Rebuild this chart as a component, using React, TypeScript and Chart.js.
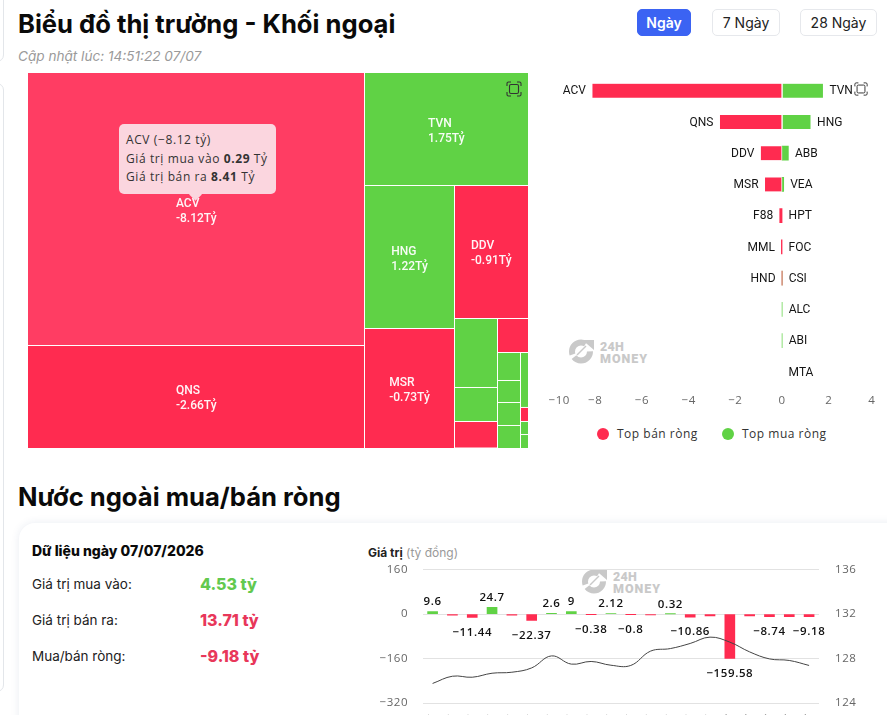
import React, { useEffect, useRef } from "react";
import { Chart, registerables } from "chart.js";

Chart.register(...registerables);

// ---------- Treemap data ----------
const treemapNames = ["ACV", "QNS", "TVN", "HNG", "MSR", "DDV", "ABB", "VEA", "F88", "MML", "HPT", "FOC", "CSI", "ALC", "ABI", "HND", "MTA", "VTP"];
const treemapValues = [-8.12, -2.66, 1.75, 1.22, -0.73, -0.91, 0.29, 0.1, -0.1, -0.05, 0.04, 0.03, 0.02, 0.02, 0.02, -0.02, 0.01, 0.01];
const treemapWeights = [91696, 34491, 18394, 12870, 10755, 9775, 2967, 1462, 1140, 1037, 644, 506, 529, 518, 412, 105, 98, 101];
const treemapLabelled = ["ACV", "QNS", "TVN", "HNG", "MSR", "DDV"];
// nesting of the treemap: [direction, ...children], a number is an index in the lists above
const treemapTree: any = ["h",
  ["v", 0, 1],
  ["v", 2,
    ["h",
      ["v", 3, 4],
      ["v", 5,
        ["h",
          ["v", 6, 7, 8],
          ["v", 9,
            ["h",
              ["v", 10, 11, 12, 13],
              ["v", 14, 15, 16, 17]]]]]]]];

// ---------- Top buy / sell ----------
const sellNames = ["ACV", "QNS", "DDV", "MSR", "F88", "MML", "HND", "", "", ""];
const sellValues = [-8.12, -2.66, -0.91, -0.73, -0.1, -0.03, -0.003, null, null, null];
const buyNames = ["TVN", "HNG", "ABB", "VEA", "HPT", "FOC", "CSI", "ALC", "ABI", "MTA"];
const buyValues = [1.75, 1.22, 0.27, 0.07, null, null, 0.003, 0.003, 0.003, null];
const sellLabel = "Top bán ròng";
const buyLabel = "Top mua ròng";

// ---------- Net flow ----------
const flowDates = ["10/06", "11/06", "12/06", "15/06", "16/06", "17/06", "18/06", "19/06", "22/06", "23/06", "24/06", "25/06", "26/06", "29/06", "30/06", "01/07", "02/07", "03/07", "06/07", "07/07"];
const flowValues = [9.6, -3.5, -11.44, 24.7, -3.5, -22.37, 2.6, 9, -0.38, 2.12, -0.8, -3, 0.32, -10.86, -6.5, -159.58, -6.5, -8.74, -9, -9.18];
const flowLabelShown = [true, false, true, true, false, true, true, true, true, true, true, false, true, true, false, true, false, true, false, true];
const indexValues = [125.76, 126.41, 126.32, 126.68, 126.77, 127.16, 128.24, 127.5, 127.74, 127.4, 127.38, 128.67, 128.9, 129.36, 129.93, 129.48, 128.6, 127.97, 127.83, 127.38];

const RED = "#FF2B50";
const RED_HOVER = "#FF3D63";
const GREEN = "#60D245";
const UI_FONT = "Inter, 'Noto Sans', sans-serif";
const TICK_FONT = "'Open Sans'";

function layoutTree(node: any, x0: number, y0: number, x1: number, y1: number, out: any[]) {
  if (typeof node === "number") {
    out[node] = { x0, y0, x1, y1 };
    return;
  }
  const weight = (n: any): number => (typeof n === "number" ? treemapWeights[n] : n.slice(1).reduce((s: number, c: any) => s + weight(c), 0));
  const total = weight(node);
  let pos = node[0] === "h" ? x0 : y0;
  node.slice(1).forEach((child: any) => {
    const share = weight(child) / total;
    if (node[0] === "h") {
      const next = pos + share * (x1 - x0);
      layoutTree(child, pos, y0, next, y1, out);
      pos = next;
    } else {
      const next = pos + share * (y1 - y0);
      layoutTree(child, x0, pos, x1, next, out);
      pos = next;
    }
  });
}

const treemapPlugin = {
  id: "treemapCells",
  afterDatasetsDraw(chart: any) {
    const { ctx, scales } = chart;
    const cells = chart.data.datasets[0].cells;
    ctx.save();
    cells.forEach((c: any, i: number) => {
      const left = scales.x.getPixelForValue(c.x0);
      const right = scales.x.getPixelForValue(c.x1);
      const top = scales.y.getPixelForValue(c.y0);
      const bottom = scales.y.getPixelForValue(c.y1);
      const value = treemapValues[i];
      ctx.fillStyle = i === 0 ? RED_HOVER : value < 0 ? RED : GREEN;
      const l = c.x0 <= 0 ? left : left + 0.5;
      const t = c.y0 <= 0 ? top : top + 0.5;
      const r = c.x1 >= 500 ? right : right - 0.5;
      const b = c.y1 >= 375 ? bottom : bottom - 0.5;
      ctx.fillRect(l, t, r - l, b - t);
    });
    ctx.font = "500 12px Roboto";
    ctx.fillStyle = "rgba(255,255,255,0.95)";
    ctx.textBaseline = "middle";
    ctx.textAlign = "left";
    cells.forEach((c: any, i: number) => {
      const name = treemapNames[i];
      if (!treemapLabelled.includes(name)) return;
      const cx = scales.x.getPixelForValue((c.x0 + c.x1) / 2);
      const cy = scales.y.getPixelForValue((c.y0 + c.y1) / 2);
      const valueText = `${treemapValues[i].toFixed(2)}Tỷ`;
      const w = Math.max(ctx.measureText(name).width, ctx.measureText(valueText).width);
      ctx.fillText(name, cx - w / 2, cy - 5.5);
      ctx.fillText(valueText, cx - w / 2, cy + 9.5);
    });
    ctx.restore();
  },
};

const spacingPlugin = {
  id: "tickSpacing",
  beforeDraw(chart: any) {
    chart.ctx.letterSpacing = "0.6px";
  },
};

const nameLabelPlugin = {
  id: "nameLabels",
  afterDatasetsDraw(chart: any) {
    const { ctx, scales } = chart;
    ctx.save();
    ctx.letterSpacing = "0px";
    ctx.font = "12px Roboto";
    ctx.fillStyle = "#151515";
    ctx.textBaseline = "middle";
    sellNames.forEach((name, i) => {
      if (!name) return;
      ctx.textAlign = "right";
      ctx.fillText(name, scales.x.getPixelForValue(sellValues[i] ?? 0) - 6.5, scales.y.getPixelForValue(i) + 0.8);
    });
    buyNames.forEach((name, i) => {
      ctx.textAlign = "left";
      ctx.fillText(name, scales.x.getPixelForValue(buyValues[i] ?? 0) + 6.5, scales.y.getPixelForValue(i) + 0.8);
    });
    ctx.restore();
  },
};

const flowLabelPlugin = {
  id: "flowLabels",
  afterDatasetsDraw(chart: any) {
    const { ctx } = chart;
    ctx.save();
    ctx.font = `600 11.5px ${TICK_FONT}`;
    ctx.fillStyle = "#111";
    ctx.textAlign = "center";
    ctx.textBaseline = "middle";
    chart.getDatasetMeta(1).data.forEach((el: any, i: number) => {
      if (!flowLabelShown[i]) return;
      const v = flowValues[i];
      ctx.fillText(String(v).replace("-", "\u2212"), el.x, v >= 0 ? el.y - 9.5 : el.y + 15);
    });
    ctx.restore();
  },
};

function Treemap() {
  const ref = useRef<HTMLCanvasElement>(null);
  useEffect(() => {
    const cells: any[] = [];
    layoutTree(treemapTree, 0, 0, 500, 375, cells);
    const chart = new Chart(ref.current!, {
      type: "scatter",
      data: {
        datasets: [{
          label: "Khối ngoại",
          data: cells.map((c) => ({ x: (c.x0 + c.x1) / 2, y: (c.y0 + c.y1) / 2 })),
          pointRadius: 0,
          cells,
        } as any],
      },
      options: {
        animation: false,
        responsive: false,
        events: [],
        layout: { padding: 0 },
        plugins: { legend: { display: false }, tooltip: { enabled: false } },
        scales: {
          x: { type: "linear", min: 0, max: 500, display: false },
          y: { type: "linear", min: 0, max: 375, reverse: true, display: false },
        },
      },
      plugins: [treemapPlugin],
    });
    return () => chart.destroy();
  }, []);
  return <canvas ref={ref} width={500} height={375} style={{ position: "absolute", left: 28, top: 73, width: 500, height: 375 }} />;
}

function TopBars() {
  const ref = useRef<HTMLCanvasElement>(null);
  useEffect(() => {
    const chart = new Chart(ref.current!, {
      type: "bar",
      data: {
        labels: buyNames,
        datasets: [
          {
            label: sellLabel,
            data: sellValues,
            backgroundColor: RED,
            barThickness: 14,
            borderSkipped: false,
            borderColor: "#fff",
            borderWidth: (c: any) => (Math.abs(c.raw) > 0.5 ? { right: 1, left: 0, top: 0, bottom: 0 } : 0),
          } as any,
          {
            label: buyLabel,
            data: buyValues,
            backgroundColor: GREEN,
            barThickness: 14,
            borderSkipped: false,
            borderColor: "#fff",
            borderWidth: (c: any) => (Math.abs(c.raw) > 0.5 ? { left: 1, right: 0, top: 0, bottom: 0 } : 0),
          } as any,
        ],
      },
      options: {
        indexAxis: "y",
        animation: false,
        responsive: false,
        events: [],
        layout: { padding: { left: 8.5, right: 11.5, top: 5, bottom: 0 } },
        plugins: { legend: { display: false }, tooltip: { enabled: false } },
        scales: {
          x: {
            type: "linear",
            stacked: true,
            min: -10,
            max: 4,
            grid: { display: false, drawTicks: false },
            border: { display: false },
            afterFit: (s: any) => { s.height = 32.5; },
            ticks: {
              stepSize: 2,
              align: "inner",
              padding: 6.8,
              color: "#666",
              font: { family: TICK_FONT, size: 11.5 },
              maxRotation: 0,
              callback: (v: any) => String(v).replace("-", "\u2212"),
            },
          },
          y: {
            stacked: true,
            display: false,
          },
        },
      },
      plugins: [spacingPlugin, nameLabelPlugin],
    });
    return () => chart.destroy();
  }, []);
  return <canvas ref={ref} width={347} height={350} style={{ position: "absolute", left: 540, top: 70, width: 347, height: 350, zIndex: 2 }} />;
}

function FlowChart() {
  const ref = useRef<HTMLCanvasElement>(null);
  useEffect(() => {
    const chart = new Chart(ref.current!, {
      type: "bar",
      data: {
        labels: flowDates,
        datasets: [
          {
            type: "line",
            label: "Chỉ số",
            data: indexValues,
            yAxisID: "y1",
            borderColor: "#444",
            borderWidth: 1,
            pointRadius: 0,
            tension: 0.4,
            order: 0,
          } as any,
          {
            type: "bar",
            label: "Giá trị",
            data: flowValues,
            yAxisID: "y",
            barThickness: 10,
            backgroundColor: flowValues.map((v) => (v >= 0 ? GREEN : RED)),
            order: 1,
          } as any,
        ],
      },
      options: {
        animation: false,
        responsive: false,
        events: [],
        layout: { padding: { top: 9.7, left: 0, right: 0, bottom: 0 } },
        plugins: { legend: { display: false }, tooltip: { enabled: false } },
        scales: {
          x: {
            grid: { display: false },
            border: { display: false },
            afterFit: (s: any) => { s.height = 57; },
            ticks: {
              color: "#888",
              font: { family: TICK_FONT, size: 10 },
              minRotation: 45,
              maxRotation: 45,
              autoSkip: false,
              padding: 1,
            },
          },
          y: {
            position: "left",
            min: -320,
            max: 160,
            afterFit: (s: any) => { s.width = 62.7; },
            grid: { color: "#e2e2e2", tickColor: "transparent", tickLength: 12.5 },
            border: { display: false },
            ticks: {
              stepSize: 160,
              padding: 2,
              color: "#666",
              font: { family: TICK_FONT, size: 11.5 },
              callback: (v: any) => String(v).replace("-", "\u2212"),
            },
          },
          y1: {
            position: "right",
            min: 124,
            max: 136,
            afterFit: (s: any) => { s.width = 68; },
            grid: { display: false, tickColor: "transparent", tickLength: 14 },
            border: { display: false },
            ticks: {
              stepSize: 4,
              padding: 2,
              color: "#666",
              font: { family: TICK_FONT, size: 11.5 },
            },
          },
        },
      },
      plugins: [spacingPlugin, flowLabelPlugin],
    });
    return () => chart.destroy();
  }, []);
  return <canvas ref={ref} width={527} height={200} style={{ position: "absolute", left: 360, top: 560, width: 527, height: 200, zIndex: 2 }} />;
}

const abs = (left: number, top: number, extra: React.CSSProperties = {}): React.CSSProperties => ({
  position: "absolute",
  left,
  top,
  whiteSpace: "nowrap",
  ...extra,
});

function Watermark({ left, top }: { left: number; top: number }) {
  return (
    <div style={abs(left, top, { width: 82, height: 26 })}>
      <svg width="26" height="25" viewBox="0 0 26 25" style={{ position: "absolute", left: 0, top: 0 }}>
        <circle cx="13" cy="12.5" r="9" fill="none" stroke="#c9c9c9" strokeWidth="6" strokeDasharray="22 3 22 9" />
        <path d="M9 16 L18 7" stroke="#c9c9c9" strokeWidth="1.5" />
        <path d="M14 1 H26 V11 L19 5 Z" fill="#c9c9c9" />
      </svg>
      <div style={abs(32, 2, { font: "900 12.5px/12px Roboto", color: "#c9c9c9", letterSpacing: 0.3 })}>24H</div>
      <div style={abs(32, 14, { font: "900 12.5px/12px Roboto", color: "#c9c9c9", letterSpacing: 1 })}>MONEY</div>
    </div>
  );
}

function FrameIcon({ left, top, size }: { left: number; top: number; size: number }) {
  return (
    <svg width={size} height={size} viewBox="0 0 16 16" style={abs(left, top, { zIndex: 3 })} fill="none" stroke="#333" strokeWidth="1.1">
      <path d="M1 5 V2.5 A1.5 1.5 0 0 1 2.5 1 H5 M11 1 H13.5 A1.5 1.5 0 0 1 15 2.5 V5 M15 11 V13.5 A1.5 1.5 0 0 1 13.5 15 H11 M5 15 H2.5 A1.5 1.5 0 0 1 1 13.5 V11" />
      <rect x="3.5" y="3.5" width="9" height="9" rx="1.5" />
    </svg>
  );
}

function Button({ left, width, text, active }: { left: number; width: number; text: string; active?: boolean }) {
  return (
    <div
      style={abs(left, 9, {
        width,
        height: 27,
        boxSizing: "border-box",
        borderRadius: 5,
        border: active ? "1px solid #3B63F3" : "1px solid #e6e8ec",
        background: active ? "#3B63F3" : "#fff",
        color: active ? "#fff" : "#222",
        font: `${active ? 600 : 400} 14px/25px ${UI_FONT}`,
        textAlign: "center",
      })}
    >
      {text}
    </div>
  );
}

function LegendDot({ left, color, text }: { left: number; color: string; text: string }) {
  return (
    <>
      <div style={abs(left, 428, { width: 12, height: 12, borderRadius: 6, background: color })} />
      <div style={abs(left + 20, 426, { font: `12px/16px ${TICK_FONT}`, color: "#333", letterSpacing: 0.5 })}>{text}</div>
    </>
  );
}

function StatRow({ top, label, value, color }: { top: number; label: string; value: string; color: string }) {
  return (
    <>
      <div style={abs(32, top - 9, { font: `13.5px/18px ${UI_FONT}`, color: "#222" })}>{label}</div>
      <div style={abs(200, top - 10, { font: `800 16px/20px ${UI_FONT}`, color })}>{value}</div>
    </>
  );
}

export default function App() {
  return (
    <div style={{ position: "absolute", left: 0, top: 0, width: 887, height: 715, overflow: "hidden", background: "#fff" }}>
      <div style={abs(-10, -10, { width: 12, height: 70, border: "1px solid #e3e6ea", borderRadius: 8 })} />
      <div style={abs(-10, 83, { width: 12, height: 607, border: "1px solid #e3e6ea", borderRadius: 8 })} />

      <div style={abs(18, 8, { font: `700 25.6px/32px ${UI_FONT}`, color: "#0a0a0a" })}>Biểu đồ thị trường - Khối ngoại</div>
      <div style={abs(18, 47, { font: `italic 13.6px/18px ${UI_FONT}`, color: "#9a9a9a" })}>Cập nhật lúc: 14:51:22 07/07</div>
      <Button left={637} width={54} text="Ngày" active />
      <Button left={712} width={68} text="7 Ngày" />
      <Button left={800} width={77} text="28 Ngày" />

      <Treemap />
      <FrameIcon left={506} top={81} size={16} />

      <div
        style={abs(119, 124, {
          width: 157,
          height: 70,
          boxSizing: "border-box",
          padding: "7px 7px",
          background: "#FBD6DF",
          borderRadius: 5,
          font: `12px/18.5px ${TICK_FONT}`,
          letterSpacing: 0.6,
          color: "#333",
          zIndex: 4,
        })}
      >
        <div>ACV (−8.12 tỷ)</div>
        <div>Giá trị mua vào <b>0.29</b> Tỷ</div>
        <div>Giá trị bán ra <b>8.41</b> Tỷ</div>
        <div style={abs(72, 66, { width: 9, height: 9, background: "#FBD6DF", transform: "rotate(45deg)" })} />
      </div>

      <Watermark left={568} top={339} />
      <TopBars />
      <FrameIcon left={854} top={82} size={14} />
      <LegendDot left={597} color={RED} text={sellLabel} />
      <LegendDot left={722} color={GREEN} text={buyLabel} />

      <div style={abs(18, 481, { font: `700 25.6px/32px ${UI_FONT}`, color: "#0a0a0a" })}>Nước ngoài mua/bán ròng</div>

      <div style={abs(19, 523, { width: 900, height: 260, borderRadius: 16, background: "#fff", boxShadow: "0 0 8px rgba(40,70,130,0.10)" })} />
      <div style={abs(32, 543, { font: `800 14px/16px ${UI_FONT}`, color: "#0a0a0a" })}>Dữ liệu ngày 07/07/2026</div>
      <StatRow top={584} label="Giá trị mua vào:" value="4.53 tỷ" color="#62C94F" />
      <StatRow top={620} label="Giá trị bán ra:" value="13.71 tỷ" color="#E8375A" />
      <StatRow top={656} label="Mua/bán ròng:" value="-9.18 tỷ" color="#E8375A" />

      <div style={abs(368, 546, { font: `12px/14px ${UI_FONT}`, color: "#999" })}>
        <b style={{ color: "#222" }}>Giá trị</b> (tỷ đồng)
      </div>
      <Watermark left={581} top={569} />
      <FlowChart />
    </div>
  );
}
